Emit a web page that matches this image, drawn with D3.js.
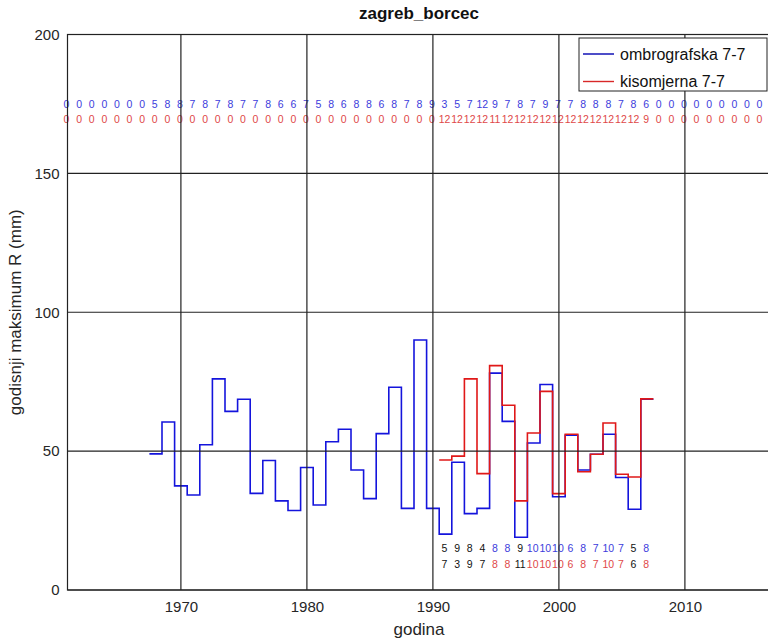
<!DOCTYPE html>
<html>
<head>
<meta charset="utf-8">
<script src="https://cdn.jsdelivr.net/npm/d3@7"></script>
<style>
  html, body { margin: 0; padding: 0; background: #fff; }
  svg { display: block; font-family: "Liberation Sans", Arial, Helvetica, sans-serif; }
</style>
</head>
<body>
<svg id="chart" width="768" height="643"></svg>
<script>
// ---- data ----
const title = "zagreb_borcec";
const xLabel = "godina";
const yLabel = "godisnji maksimum R (mm)";
const seriesNames = ["ombrografska 7-7", "kisomjerna 7-7"];

const ombroYears = d3.range(1968, 2008);
const ombroValues = [
  49, 60.5, 37.5, 34.2, 52.3, 76.0, 64.3, 68.7, 34.8, 46.6,
  32.1, 28.6, 44.1, 30.6, 53.4, 57.9, 43.2, 32.9, 56.3, 73.0,
  29.4, 90.0, 29.4, 20.1, 46.0, 27.5, 29.4, 78.1, 60.7, 19.0,
  52.9, 74.0, 33.6, 55.7, 43.2, 48.9, 56.1, 40.5, 29.1, 68.7
];

const kisoYears = d3.range(1991, 2008);
const kisoValues = [
  46.8, 48.2, 76.0, 41.9, 80.8, 66.5, 32.1, 56.5, 71.5, 34.7,
  56.1, 42.6, 48.9, 60.1, 41.7, 40.7, 68.8
];

// counts shown along the top (1961-2016)
const countYears = d3.range(1961, 2017);
const ombroCounts = [
  0,0,0,0,0,0,0,5,8,8, 7,8,7,8,7,7,8,6,6,7, 5,8,6,8,8,6,8,7,8,9,
  3,5,7,12,9,7,8,7,9,7, 7,8,8,8,7,8,6,0,0,0, 0,0,0,0,0,0
];
const kisoCounts = [
  0,0,0,0,0,0,0,0,0,0, 0,0,0,0,0,0,0,0,0,0, 0,0,0,0,0,0,0,0,0,0,
  12,12,12,12,11,12,12,12,12,12, 12,12,12,12,12,12,9,0,0,0, 0,0,0,0,0,0
];

// bottom rows (1991-2007)
const bottomYears = d3.range(1991, 2008);
const bottomTop = [5,9,8,4,8,8,9,10,10,10,6,8,7,10,7,5,8];
const bottomBot = [7,3,9,7,8,8,11,10,10,10,6,8,7,10,7,6,8];

const xTicks = [1970, 1980, 1990, 2000, 2010];
const yTicks = [0, 50, 100, 150, 200];

// ---- drawing ----
const blue = "#1414dc", red = "#e01818";
const svg = d3.select("#chart");
const m = { left: 67.5, top: 34.5, bottom: 590 };
const x = d3.scaleLinear().domain([1961, 2017]).range([m.left, m.left + 56 * 12.6]);
const y = d3.scaleLinear().domain([0, 200]).range([m.bottom, m.top]);

// stairs
function stairPts(years, vals) {
  const pts = years.map((yr, i) => [yr - 0.5, vals[i]]);
  pts.push([years[years.length - 1] + 0.5, vals[vals.length - 1]]);
  return pts;
}
const line = d3.line().x(d => x(d[0])).y(d => y(d[1])).curve(d3.curveStepAfter);

svg.append("path").attr("d", line(stairPts(ombroYears, ombroValues)))
  .attr("fill", "none").attr("stroke", blue).attr("stroke-width", 1.6);
svg.append("path").attr("d", line(stairPts(kisoYears, kisoValues)))
  .attr("fill", "none").attr("stroke", red).attr("stroke-width", 1.6);

// count rows at top
const cnt = svg.append("g").attr("font-size", 10.5).attr("text-anchor", "middle");
cnt.selectAll("text.ob").data(countYears).join("text")
  .attr("x", d => x(d) - 1).attr("y", y(173.6))
  .attr("fill", "#3c3cdc").text((d, i) => ombroCounts[i]);
cnt.selectAll("text.ki").data(countYears).join("text")
  .attr("x", d => x(d) - 1).attr("y", y(168.2))
  .attr("fill", "#e04848").text((d, i) => kisoCounts[i]);

// bottom rows
const bot = svg.append("g").attr("font-size", 10.5).attr("text-anchor", "middle");
bot.selectAll("text.a").data(bottomYears).join("text")
  .attr("x", d => x(d) - 1).attr("y", y(13.6))
  .attr("fill", (d, i) => bottomTop[i] === bottomBot[i] ? "#3c3cdc" : "#111")
  .text((d, i) => bottomTop[i]);
bot.selectAll("text.b").data(bottomYears).join("text")
  .attr("x", d => x(d) - 1).attr("y", y(8.0))
  .attr("fill", (d, i) => bottomTop[i] === bottomBot[i] ? "#e04848" : "#111")
  .text((d, i) => bottomBot[i]);

// grid
const grid = svg.append("g").attr("stroke", "#222").attr("stroke-width", 1.2);
grid.selectAll("line.v").data(xTicks).join("line")
  .attr("x1", d => x(d)).attr("x2", d => x(d)).attr("y1", y(0)).attr("y2", y(200));
grid.selectAll("line.h").data(yTicks).join("line")
  .attr("x1", x(1961)).attr("x2", x(2017)).attr("y1", d => y(d)).attr("y2", d => y(d));
svg.append("rect").attr("x", x(1961)).attr("y", y(200))
  .attr("width", x(2017) - x(1961)).attr("height", y(0) - y(200))
  .attr("fill", "none").attr("stroke", "#222").attr("stroke-width", 1.2);

// axes tick labels
const xAxis = d3.axisBottom(x).tickValues(xTicks).tickFormat(d3.format("d")).tickSize(0).tickPadding(11);
const gx = svg.append("g").attr("transform", `translate(0,${y(0)})`).call(xAxis);
gx.select(".domain").remove();
gx.selectAll("text").attr("font-size", 15).attr("fill", "#262626").attr("font-family", null);

const yAxis = d3.axisLeft(y).tickValues(yTicks).tickSize(0).tickPadding(8);
const gy = svg.append("g").attr("transform", `translate(${x(1961)},0)`).call(yAxis);
gy.select(".domain").remove();
gy.selectAll("text").attr("font-size", 15).attr("fill", "#262626").attr("font-family", null);

// title & labels
svg.append("text").attr("x", 419).attr("y", 19).attr("text-anchor", "middle")
  .attr("font-size", 17).attr("font-weight", "bold").attr("fill", "#111").text(title);
svg.append("text").attr("x", 419).attr("y", 635).attr("text-anchor", "middle")
  .attr("font-size", 17).attr("fill", "#262626").text(xLabel);
svg.append("text").attr("transform", `translate(21,${(y(0) + y(200)) / 2}) rotate(-90)`)
  .attr("text-anchor", "middle").attr("font-size", 17).attr("fill", "#262626").text(yLabel);

// legend
const lg = svg.append("g").attr("transform", "translate(579,38)");
lg.append("rect").attr("width", 188).attr("height", 53).attr("fill", "#fff")
  .attr("stroke", "#222").attr("stroke-width", 1);
const lgItems = [{ name: seriesNames[0], c: "#0000b0" }, { name: seriesNames[1], c: "#d82828" }];
lgItems.forEach((it, i) => {
  const yy = 16 + i * 27.5;
  lg.append("line").attr("x1", 4).attr("x2", 35).attr("y1", yy).attr("y2", yy)
    .attr("stroke", it.c).attr("stroke-width", 1.4);
  lg.append("text").attr("x", 41).attr("y", yy + 5.5).attr("font-size", 16)
    .attr("fill", "#111").text(it.name);
});
</script>
</body>
</html>
